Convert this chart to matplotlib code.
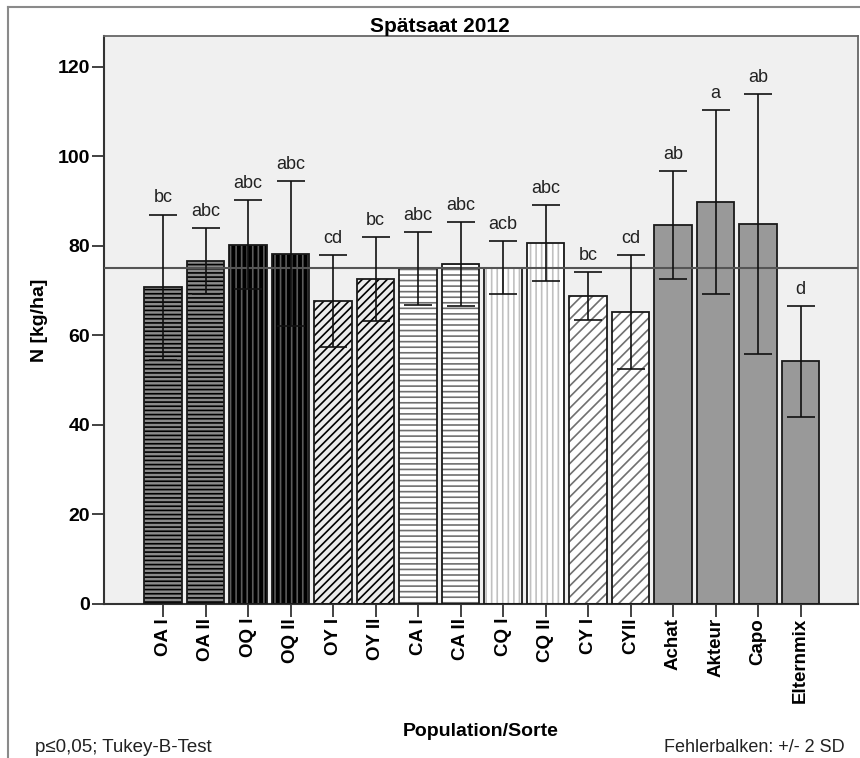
import matplotlib
matplotlib.use("Agg")
import matplotlib.pyplot as plt
from matplotlib.lines import Line2D

# ---- data ----
categories = ["OA I", "OA II", "OQ I", "OQ II", "OY I", "OY II", "CA I", "CA II",
              "CQ I", "CQ II", "CY I", "CYII", "Achat", "Akteur", "Capo", "Elternmix"]
groups = ["OA", "OA", "OQ", "OQ", "OY", "OY", "CA", "CA",
          "CQ", "CQ", "CY", "CY", "S", "S", "S", "S"]
means = [70.9, 76.6, 80.3, 78.3, 67.6, 72.7, 75.0, 75.9,
         75.1, 80.6, 68.8, 65.2, 84.6, 89.8, 84.8, 54.2]
upper = [87.0, 84.0, 90.2, 94.4, 78.0, 82.0, 83.1, 85.3,
         81.1, 89.1, 74.2, 77.9, 96.7, 110.3, 113.9, 66.6]
lower = [54.6, 69.3, 70.4, 62.2, 57.5, 63.3, 66.8, 66.6,
         69.2, 72.1, 63.4, 52.6, 72.6, 69.3, 55.8, 41.8]
letters = ["bc", "abc", "abc", "abc", "cd", "bc", "abc", "abc",
           "acb", "abc", "bc", "cd", "ab", "a", "ab", "d"]
ref_value = 75
yticks = [0, 20, 40, 60, 80, 100, 120]

styles = {
    "OA": dict(face="#8a8a8a", hatch="----", hcol="#000000"),
    "OQ": dict(face="#000000", hatch="|||", hcol="#5c5c5c"),
    "OY": dict(face="#ececec", hatch="////", hcol="#000000"),
    "CA": dict(face="#ffffff", hatch="---", hcol="#707070"),
    "CQ": dict(face="#ffffff", hatch="|||", hcol="#c0c0c0"),
    "CY": dict(face="#ffffff", hatch="///", hcol="#707070"),
    "S":  dict(face="#999999", hatch=None, hcol="#999999"),
}

plt.rcParams["font.family"] = ["Liberation Sans", "DejaVu Sans"]
plt.rcParams["hatch.linewidth"] = 1.2

W, H = 860, 758
fig = plt.figure(figsize=(W / 100, H / 100), dpi=100)
ax = fig.add_axes([104 / W, 1 - 604 / H, (858 - 104) / W, (604 - 36) / H])
ax.set_facecolor("#f0f0f0")

x = list(range(len(categories)))
width = 0.88
for i, g in enumerate(groups):
    st = styles[g]
    ax.bar(x[i], means[i], width=width, color=st["face"], edgecolor=st["hcol"],
           hatch=st["hatch"], linewidth=0, zorder=2)
    ax.bar(x[i], means[i], width=width, fill=False, edgecolor="#1a1a1a",
           linewidth=1.3, zorder=3)

ax.axhline(ref_value, color="#555555", lw=1.5, zorder=4)

err_lo = [m - l for m, l in zip(means, lower)]
err_hi = [u - m for m, u in zip(means, upper)]
ax.errorbar(x, means, yerr=[err_lo, err_hi], fmt="none", ecolor="#111111",
            elinewidth=1.2, capsize=10, capthick=1.2, zorder=5)

for i, lab in enumerate(letters):
    ax.annotate(lab, (x[i], upper[i]), xytext=(0, 6), textcoords="offset points",
                ha="center", va="bottom", fontsize=13, color="#222222")

ax.set_xlim(-1.388, 16.35)
ax.set_ylim(0, 126.9)
ax.set_yticks(yticks)
ax.set_yticklabels([str(v) for v in yticks],
                   fontdict=dict(family=["Liberation Sans Narrow", "Liberation Sans"],
                                 weight="bold", size=14))
ax.set_xticks(x)
ax.set_xticklabels(categories, rotation=90, fontsize=13.5, fontweight="bold")
ax.tick_params(axis="y", length=8.5, width=1.3, pad=1.5, color="#333333")
ax.tick_params(axis="x", length=9, width=1.3, pad=1, color="#333333")

for s in ["left", "bottom"]:
    ax.spines[s].set_color("#333333")
    ax.spines[s].set_linewidth(1.5)
for s in ["top", "right"]:
    ax.spines[s].set_color("#666666")
    ax.spines[s].set_linewidth(1.3)

# labels and texts (figure pixel coords)
def fx(px):
    return px / W

def fy(py):
    return 1 - py / H

fig.text(fx(440), fy(26), "Spätsaat 2012", ha="center", va="center",
         fontsize=15, fontweight="bold")
fig.text(fx(40), fy(320), "N [kg/ha]", ha="center", va="center", rotation=90,
         fontsize=14, fontweight="bold")
fig.text(fx(481), fy(732), "Population/Sorte", ha="center", va="center",
         fontsize=14, fontweight="bold")
fig.text(fx(35), fy(752), "p≤0,05; Tukey-B-Test", ha="left", va="baseline",
         fontsize=13.5, color="#222222")
fig.text(fx(845), fy(752), "Fehlerbalken: +/- 2 SD", ha="right", va="baseline",
         fontsize=13, color="#222222")

# outer frame
fig.add_artist(Line2D([fx(8), fx(8)], [fy(7), 0], color="#8a8a8a", lw=1.5))
fig.add_artist(Line2D([fx(8), 1], [fy(7), fy(7)], color="#8a8a8a", lw=1.5))

fig.savefig("out.png", dpi=100)
